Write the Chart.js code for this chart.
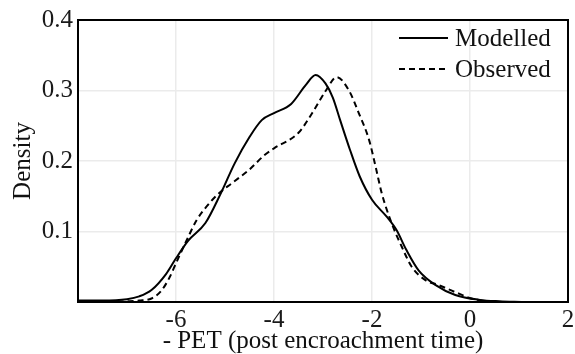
<!DOCTYPE html>
<html>
<head>
<meta charset="utf-8">
<script src="https://cdn.jsdelivr.net/npm/chart.js@4"></script>
<style>
    html, body { margin: 0; padding: 0; background: #fff; }
    #wrap { width: 575px; height: 354px; }
</style>
</head>
<body>
<div id="wrap"><canvas id="densityChart"></canvas></div>
<script>
// density curves
const modelledX = [-8, -7.5, -7, -6.75, -6.5, -6.2, -6, -5.75, -5.4, -5.1, -4.8, -4.5, -4.25, -4.0, -3.65, -3.35, -3.15, -2.95, -2.8, -2.65, -2.45, -2.25, -2.0, -1.7, -1.5, -1.3, -1.05, -0.7, -0.3, 0.2, 0.6, 1.05];
const modelledY = [0.002, 0.002, 0.004, 0.008, 0.017, 0.04, 0.062, 0.087, 0.112, 0.152, 0.197, 0.234, 0.258, 0.268, 0.281, 0.308, 0.322, 0.31, 0.29, 0.258, 0.216, 0.178, 0.145, 0.121, 0.102, 0.074, 0.045, 0.024, 0.01, 0.003, 0.001, 0.0];

const observedX = [-7.6, -7, -6.75, -6.5, -6.3, -6.13, -6.0, -5.78, -5.58, -5.32, -5.11, -4.85, -4.5, -4.2, -4.0, -3.5, -3.22, -2.94, -2.72, -2.47, -2.27, -2.06, -1.92, -1.8, -1.6, -1.39, -1.19, -0.91, -0.64, -0.3, 0.03, 0.3];
const observedY = [0.0, 0.001, 0.002, 0.005, 0.016, 0.035, 0.055, 0.088, 0.116, 0.14, 0.155, 0.169, 0.188, 0.208, 0.218, 0.24, 0.268, 0.30, 0.319, 0.30, 0.268, 0.23, 0.19, 0.154, 0.112, 0.078, 0.05, 0.031, 0.024, 0.014, 0.005, 0.001];

const seriesNames = ['Modelled', 'Observed'];
const xTicks = [-6, -4, -2, 0, 2];
const yTicks = [0.1, 0.2, 0.3, 0.4];

const serif = "'Liberation Serif', 'DejaVu Serif', serif";

function toPoints(xs, ys) {
    return xs.map((x, i) => ({ x: x, y: ys[i] }));
}

// frame around the plot + legend inside the top right corner
const framePlugin = {
    id: 'frameAndLegend',
    afterDatasetsDraw(chart) {
        const { ctx, chartArea } = chart;
        ctx.save();
        ctx.strokeStyle = '#000';
        ctx.lineWidth = 2;
        ctx.strokeRect(chartArea.left, chartArea.top, chartArea.right - chartArea.left, chartArea.bottom - chartArea.top);

        const x0 = chartArea.right - 169;
        const rows = [chartArea.top + 18, chartArea.top + 49];
        chart.data.datasets.forEach((ds, i) => {
            const y = rows[i];
            ctx.beginPath();
            ctx.setLineDash(ds.borderDash || []);
            ctx.lineWidth = 2;
            ctx.moveTo(x0, y);
            ctx.lineTo(x0 + 49, y);
            ctx.stroke();
            ctx.setLineDash([]);
            ctx.fillStyle = '#111';
            ctx.font = '25px ' + serif;
            ctx.textBaseline = 'middle';
            ctx.fillText(ds.label, x0 + 56, y + 1);
        });
        ctx.restore();
    }
};

new Chart(document.getElementById('densityChart'), {
    type: 'line',
    data: {
        datasets: [{
            label: seriesNames[0],
            data: toPoints(modelledX, modelledY),
            borderColor: '#000',
            borderWidth: 2,
            pointRadius: 0,
            cubicInterpolationMode: 'monotone',
            fill: false
        }, {
            label: seriesNames[1],
            data: toPoints(observedX, observedY),
            borderColor: '#000',
            borderWidth: 2,
            borderDash: [6, 4],
            pointRadius: 0,
            cubicInterpolationMode: 'monotone',
            fill: false
        }]
    },
    options: {
        responsive: true,
        maintainAspectRatio: false,
        animation: false,
        layout: { padding: { top: 20, right: 7, left: 0, bottom: 0 } },
        plugins: {
            legend: { display: false },
            tooltip: { enabled: false }
        },
        scales: {
            x: {
                type: 'linear',
                min: -8,
                max: 2,
                afterBuildTicks: (scale) => {
                    scale.ticks = [-8].concat(xTicks).map(v => ({ value: v }));
                },
                afterFit: (scale) => {
                    scale.height = 52;
                    scale.paddingLeft = 0;
                    scale.paddingRight = 0;
                },
                ticks: {
                    color: '#1a1a1a',
                    font: { family: serif, size: 25, lineHeight: 1.0 },
                    padding: 6,
                    maxRotation: 0,
                    callback: (v) => (xTicks.includes(v) ? v : '')
                },
                grid: { color: '#ebebeb', lineWidth: 1.5, drawTicks: false },
                border: { display: false },
                title: {
                    display: true,
                    text: '- PET (post encroachment time)',
                    color: '#111',
                    font: { family: serif, size: 25, lineHeight: 1.0 },
                    padding: { top: -4, bottom: 0 }
                }
            },
            y: {
                min: 0,
                max: 0.4,
                afterBuildTicks: (scale) => {
                    scale.ticks = [0].concat(yTicks).map(v => ({ value: v }));
                },
                afterFit: (scale) => { scale.width = 78; },
                ticks: {
                    color: '#1a1a1a',
                    font: { family: serif, size: 25 },
                    padding: 5,
                    callback: (v) => (v === 0 ? '' : v.toFixed(1))
                },
                grid: { color: '#ebebeb', lineWidth: 1.5, drawTicks: false },
                border: { display: false },
                title: {
                    display: true,
                    text: 'Density',
                    color: '#111',
                    font: { family: serif, size: 25 },
                    padding: { top: 8, bottom: 0 }
                }
            }
        }
    },
    plugins: [framePlugin]
});
</script>
</body>
</html>
